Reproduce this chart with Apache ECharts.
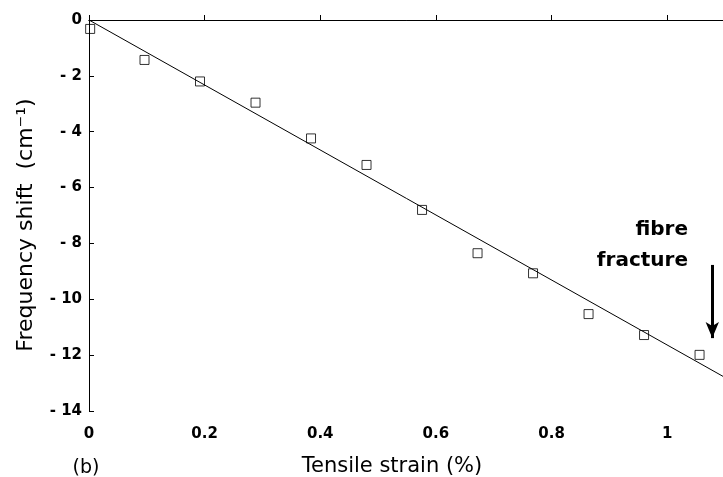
<!DOCTYPE html>
<html>
<head>
<meta charset="utf-8">
<script src="https://cdn.jsdelivr.net/npm/echarts@6/dist/echarts.min.js"></script>
<style>
  html, body { margin: 0; padding: 0; background: #fff; }
  #chart { width: 723px; height: 477px; }
</style>
</head>
<body>
<div id="chart"></div>
<script>
// Raman frequency shift of the fibre versus applied tensile strain
const strain = [0.002, 0.096, 0.192, 0.288, 0.384, 0.48, 0.576, 0.672, 0.768, 0.864, 0.96, 1.056];
const shift  = [-0.32, -1.43, -2.20, -2.96, -4.24, -5.19, -6.80, -8.35, -9.07, -10.53, -11.28, -11.99];

// Linear fit through the origin
const fitStrain = [0, 1.1];
const fitShift  = [0, -12.8];

// Fibre fracture marker (strain, shift from -> to)
const fractureStrain = 1.078;
const fractureShift  = [-8.77, -11.39];

const xTicks = [0, 0.2, 0.4, 0.6, 0.8, 1];
const yTicks = [0, -2, -4, -6, -8, -10, -12, -14];

const boldFont  = 'DejaVu Sans, sans-serif';
const titleFont = 'DejaVu Sans, sans-serif';

const fmtY = v => v < 0 ? '- ' + Math.abs(v) : String(v);

const chart = echarts.init(document.getElementById('chart'), null, { renderer: 'canvas' });

chart.setOption({
  backgroundColor: '#ffffff',
  animation: false,
  grid: {
    left: 89, top: 20, width: 636, height: 391, show: false,
    containLabel: false, outerBoundsMode: 'none'
  },
  xAxis: [
    {
      type: 'value', min: 0, max: 1.1, interval: 0.2,
      name: 'Tensile strain (%)',
      nameLocation: 'middle', nameGap: 45,
      nameTextStyle: { fontFamily: titleFont, fontSize: 21, color: '#000', padding: [0, 30, 0, 0] },
      axisLine: { lineStyle: { color: '#000', width: 1 } },
      axisTick: { inside: true, length: 5, lineStyle: { color: '#000' } },
      splitLine: { show: false },
      axisLabel: {
        margin: 16, fontFamily: boldFont, fontWeight: 'bold', fontSize: 15, color: '#000',
        showMaxLabel: false,
        formatter: v => xTicks.includes(+v.toFixed(1)) ? String(+v.toFixed(1)) : ''
      }
    },
    {
      // frame line along the top of the plot
      type: 'value', position: 'top', min: 0, max: 1.1,
      axisLine: { show: true, onZero: false, lineStyle: { color: '#000', width: 1 } },
      axisTick: { show: false }, axisLabel: { show: false }, splitLine: { show: false }
    }
  ],
  yAxis: {
    type: 'value', min: -14, max: 0, interval: 2,
    axisLine: { show: true, lineStyle: { color: '#000', width: 1 } },
    axisTick: { show: true, inside: true, length: 5, lineStyle: { color: '#000' } },
    splitLine: { show: false },
    axisLabel: {
      margin: 7, fontFamily: boldFont, fontWeight: 'bold', fontSize: 15, color: '#000',
      formatter: v => yTicks.includes(v) ? fmtY(v) : ''
    }
  },
  series: [
    {
      type: 'line',
      data: fitStrain.map((x, i) => [x, fitShift[i]]),
      showSymbol: false,
      lineStyle: { color: '#000', width: 1 },
      silent: true,
      z: 2
    },
    {
      type: 'scatter',
      data: strain.map((x, i) => [x, shift[i]]),
      symbol: 'rect',
      symbolSize: 9,
      itemStyle: { color: 'rgba(255,255,255,0)', borderColor: '#000', borderWidth: 1 },
      z: 3,
      markLine: {
        silent: true,
        symbol: ['none', 'arrow'],
        symbolSize: [10, 16],
        label: { show: false },
        lineStyle: { color: '#000', width: 3, type: 'solid' },
        data: [[
          { coord: [fractureStrain, fractureShift[0]] },
          { coord: [fractureStrain, fractureShift[1]] }
        ]]
      }
    }
  ],
  graphic: [
    {
      type: 'text', x: 26, y: 225, rotation: Math.PI / 2,
      style: {
        text: 'Frequency shift  (cm\u207B\u00B9)', font: '22px ' + titleFont, fill: '#000',
        align: 'center', verticalAlign: 'middle'
      }
    },
    {
      type: 'text', x: 688, y: 230,
      style: { text: 'fibre', font: 'bold 20px ' + boldFont, fill: '#000', align: 'right', verticalAlign: 'middle' }
    },
    {
      type: 'text', x: 688, y: 261,
      style: { text: 'fracture', font: 'bold 20px ' + boldFont, fill: '#000', align: 'right', verticalAlign: 'middle' }
    },
    {
      type: 'text', x: 86, y: 468,
      style: { text: '(b)', font: '19px ' + titleFont, fill: '#000', align: 'center', verticalAlign: 'middle' }
    }
  ]
});
</script>
</body>
</html>
